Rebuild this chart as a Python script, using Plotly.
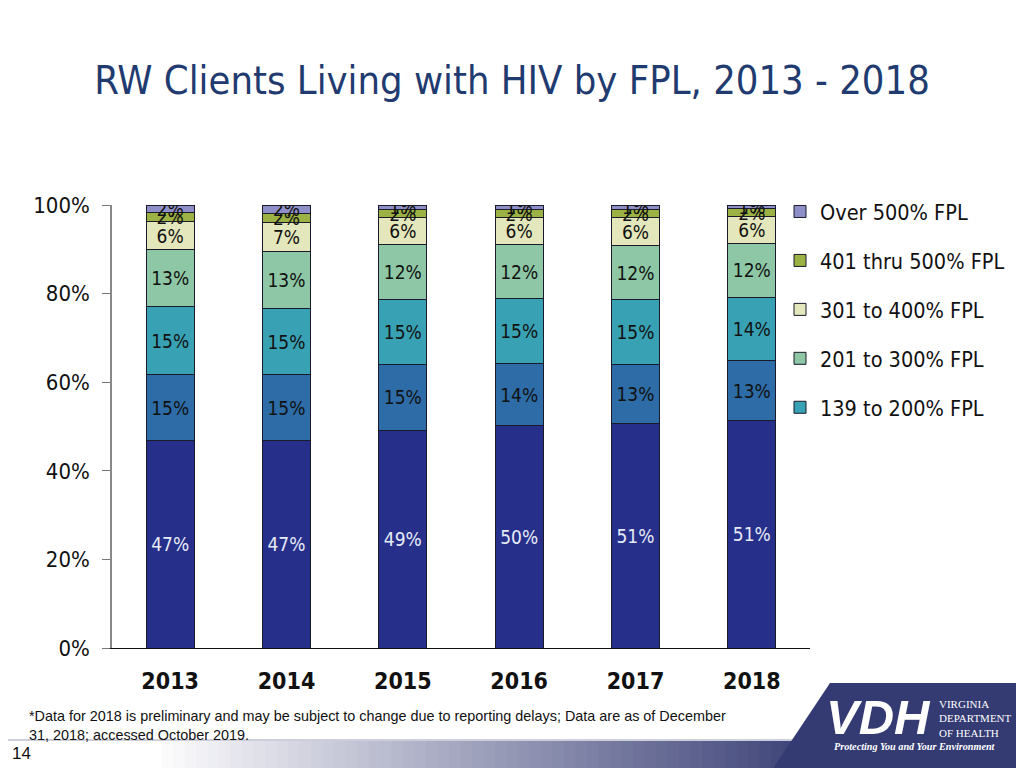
import plotly.graph_objects as go

# ---------------- data ----------------
years = ["2013", "2014", "2015", "2016", "2017", "2018"]
fpl_0_100 = [46.8, 46.8, 49.2, 50.2, 50.6, 51.4]
fpl_101_138 = [14.9, 14.9, 14.9, 14.0, 13.4, 13.4]
fpl_139_200 = [15.4, 14.9, 14.6, 14.6, 14.6, 14.4]
fpl_201_300 = [12.8, 12.9, 12.4, 12.2, 12.3, 12.2]
fpl_301_400 = [6.4, 6.6, 6.1, 6.1, 6.2, 6.1]
fpl_401_500 = [1.9, 2.0, 1.7, 1.8, 1.8, 1.6]
fpl_over_500 = [1.8, 1.9, 1.1, 1.1, 1.1, 0.9]

series_names = ["0 to 100% FPL", "101 to 138% FPL", "139 to 200% FPL", "201 to 300% FPL",
                "301 to 400% FPL", "401 thru 500% FPL", "Over 500% FPL"]
series_values = [fpl_0_100, fpl_101_138, fpl_139_200, fpl_201_300,
                 fpl_301_400, fpl_401_500, fpl_over_500]
series_colors = ["#262F8A", "#2D6CA7", "#39A1B4", "#8DC7A5", "#E4E6BB", "#9CB244", "#8E8FC8"]
series_in_legend = [False, False, True, True, True, True, True]
y_ticks = [0, 20, 40, 60, 80, 100]
y_tick_labels = ["0%", "20%", "40%", "60%", "80%", "100%"]

FONT = "DejaVu Sans Condensed, DejaVu Sans, sans-serif"
OFF = 8  # page body margin compensation


def px(x):
    return (x - OFF) / 1024


def py(y):
    return 1 - (y - OFF) / 768


fig = go.Figure()
for i, (name, vals, col, inleg) in enumerate(zip(series_names, series_values, series_colors, series_in_legend)):
    fig.add_trace(go.Bar(
        x=years, y=vals, name=name,
        marker=dict(color=col, line=dict(color="#1a1a2a", width=1)),
        texttemplate="%{y:.0f}%",
        textposition="inside",
        insidetextanchor="middle",
        textangle=0,
        textfont=dict(family=FONT, size=19, color="#E6EBF8" if i == 0 else "#111111"),
        showlegend=inleg,
        legendgroup=name,
        legendrank=100 - i,
    ))

fig.update_layout(
    width=1024, height=768,
    margin=dict(l=0, r=0, t=0, b=0),
    paper_bgcolor="white", plot_bgcolor="white",
    barmode="stack",
    bargap=0.585,
    uniformtext=dict(minsize=19, mode="show"),
    font=dict(family=FONT, color="#111111"),
    title=dict(text="RW Clients Living with HIV by FPL, 2013 - 2018",
               x=px(512), xanchor="center", y=py(80), yanchor="middle",
               font=dict(family=FONT, size=39.6, color="#1F3B6F")),
    xaxis=dict(domain=[px(112), px(810)], showline=True, linecolor="#111111", linewidth=1,
               ticks="", tickfont=dict(family=FONT, size=23, color="#111111", weight="bold"),
               ticklabelstandoff=12, showgrid=False, fixedrange=True, automargin=False),
    yaxis=dict(domain=[py(648), py(205)], range=[0, 100], tickvals=y_ticks, ticktext=y_tick_labels,
               ticks="outside", ticklen=8, tickcolor="#777777",
               showline=True, linecolor="#888888", linewidth=1.5, showgrid=False, zeroline=False,
               tickfont=dict(family=FONT, size=22, color="#111111"), ticklabelstandoff=8,
               automargin=False),
    legend=dict(x=px(780), y=py(191), xanchor="left", yanchor="top",
                traceorder="grouped", tracegroupgap=18,
                font=dict(family=FONT, size=21.5, color="#111111"),
                bgcolor="rgba(0,0,0,0)", itemwidth=30),
)

# ---- decorative slide footer ----
shapes = []
n = 60
x0, x1 = 150, 840
start = (255, 255, 255)
end = (52, 58, 114)
for k in range(n):
    t = k / (n - 1)
    c = tuple(int(start[j] + (end[j] - start[j]) * t) for j in range(3))
    xa = x0 + (x1 - x0) * k / n
    xb = x0 + (x1 - x0) * (k + 1) / n + 1
    shapes.append(dict(type="rect", xref="paper", yref="paper",
                       x0=px(xa), x1=px(xb), y0=py(776), y1=py(741),
                       fillcolor="rgb(%d,%d,%d)" % c, line=dict(width=0), layer="below"))
shapes.append(dict(type="line", xref="paper", yref="paper", x0=0, x1=px(840),
                   y0=py(740), y1=py(740), line=dict(color="#9aa0b8", width=1)))
shapes.append(dict(type="path", xref="paper", yref="paper",
                   path="M %f %f L %f %f L %f %f L %f %f Z" % (
                       px(830), py(683), 1, py(683), 1, 0, px(768), 0),
                   fillcolor="#343A72", line=dict(width=0)))
fig.update_layout(shapes=shapes)

anns = [
    dict(text="*Data for 2018 is preliminary and may be subject to change due to reporting delays; Data are as of December<br>31, 2018; accessed October 2019.",
         x=px(27), y=py(706), xanchor="left", yanchor="top", align="left",
         font=dict(family="Liberation Sans Narrow, Arial Narrow, sans-serif", size=14.4, color="#111111")),
    dict(text="14", x=px(10), y=py(753), xanchor="left", yanchor="middle",
         font=dict(family="Liberation Sans Narrow, sans-serif", size=17, color="#111111")),
    dict(text="<i><b>VDH</b></i>", x=px(824), y=py(717), xanchor="left", yanchor="middle",
         font=dict(family="Liberation Sans, sans-serif", size=49, color="white")),
    dict(text="VIRGINIA<br>DEPARTMENT<br>OF HEALTH", x=px(937), y=py(718),
         xanchor="left", yanchor="middle", align="left",
         font=dict(family="Liberation Serif, serif", size=11, color="white")),
    dict(text="<i><b>Protecting You and Your Environment</b></i>", x=px(832), y=py(746),
         xanchor="left", yanchor="middle",
         font=dict(family="Liberation Serif, serif", size=10.2, color="white")),
]
fig.update_layout(annotations=[dict(a, xref="paper", yref="paper", showarrow=False) for a in anns])

fig.write_html("out.html")
